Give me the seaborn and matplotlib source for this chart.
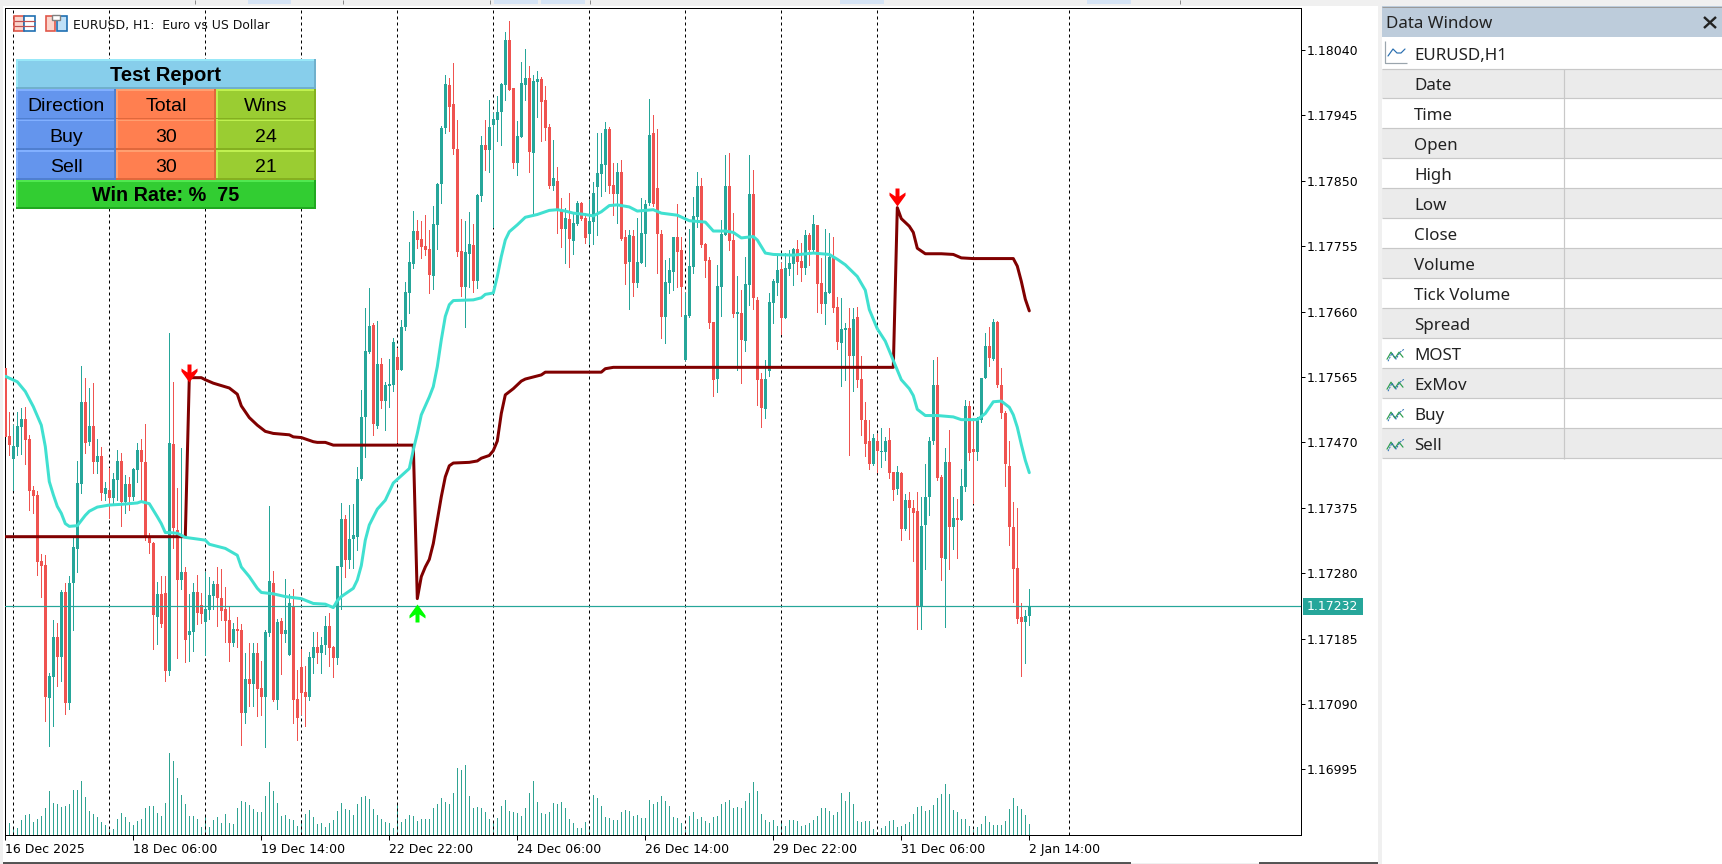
import numpy as np
import seaborn as sns
import matplotlib
matplotlib.use("Agg")
import matplotlib.pyplot as plt
from matplotlib.path import Path
from matplotlib.patches import Rectangle

# ---- data: prices are stored as points above 1.17000 ----
BASE = 1.17
POINT = 1e-5
body_top = [
 578,479,465,494,504,504,475,401,394,298, 292,131,187,187,253,253,266,318,411,529,
 529,494,494,450,450,404,401,417,443,443, 410,410,431,459,459,441,334,324,250,250,
 251,469,468,343,282,282,196,253,253,234, 228,248,264,264,244,228,212,199,199,197,
 126,126,164,164,113,195,269,266,209,211, 197,237,232,97,144,107,158,173,173,176,
 203,203,173,290,359,359,330,335,417,507, 603,639,640,584,584,553,555,616,594,638,
 688,732,777,777,765,755,751,787,845,927, 991,989,962,896,748,747,758,757,829,902,
 902,928,940,950,991,1054,1054,985,915,992, 999,999,995,998,998,967,928,854,850,808,
 796,794,789,818,818,796,792,832,861,874, 925,925,844,863,863,768,771,770,732,774,
 816,916,919,840,773,703,720,768,768,749, 655,726,799,842,842,758,735,645,697,773,
 842,842,764,659,658,700,831,831,677,562, 562,674,704,720,722,723,731,751,751,733,
 771,771,787,786,701,688,739,738,667,635, 636,636,649,652,562,503,472,476,472,458,
 472,473,427,427,425,386,386,374,370,349, 390,472,554,554,420,441,442,360,360,406,
 523,523,461,505,563,610,610,645,645,554, 512,436,347,287,217,218,232]
body_bot = [
 478,466,446,463,492,473,399,392,296,290, 100,99,129,158,158,91,91,266,315,410,
 469,471,441,441,396,395,389,389,415,383, 383,391,391,430,441,334,324,219,216,206,
 138,138,346,270,270,183,190,195,222,221, 209,226,247,244,225,211,179,179,196,77,
 77,119,119,112,100,100,193,96,96,192, 192,161,96,70,106,100,100,157,164,164,
 176,171,157,157,289,299,299,330,333,417, 507,601,497,494,530,530,552,553,575,575,
 638,687,729,764,754,749,713,712,786,845, 927,957,896,747,696,696,744,704,704,828,
 895,895,931,938,950,989,982,876,876,914, 989,892,890,994,964,927,842,842,808,780,
 780,765,762,787,794,767,773,790,841,860, 873,842,831,831,765,729,732,701,701,731,
 773,818,816,773,652,652,701,717,747,696, 590,654,725,797,757,733,643,561,562,696,
 771,762,656,656,619,617,699,680,561,520, 518,574,672,701,651,651,722,729,732,723,
 723,749,749,700,671,671,687,665,616,614, 633,595,595,561,502,467,439,439,457,456,
 456,426,401,402,344,344,374,368,231,232, 350,390,472,418,302,301,347,347,357,357,
 405,454,456,456,502,563,592,591,553,512, 438,347,286,213,209,209,218]
wick_hi = [
 578,514,495,514,520,521,481,407,399,308, 306,135,212,208,256,266,276,333,443,581,
 564,549,556,475,463,412,433,425,459,455, 423,420,433,469,475,497,338,325,267,276,
 276,629,558,404,462,289,250,266,277,251, 282,274,269,289,286,260,231,208,216,206,
 164,179,179,179,152,197,378,283,213,215, 272,250,257,139,170,145,166,195,195,187,
 218,222,174,290,382,365,379,381,434,546, 665,694,643,646,593,558,591,622,607,648,
 703,761,806,793,792,800,778,813,847,930, 1004,1000,1021,938,794,792,805,787,831,915,
 938,967,948,973,992,1066,1082,985,937,1023, 1041,1017,1004,1009,1001,988,932,909,870,825,
 810,832,803,821,819,803,822,848,919,919, 935,928,876,876,880,778,778,778,796,825,
 822,969,946,925,778,735,738,768,816,768, 687,780,826,863,854,760,739,645,728,793,
 887,890,803,712,691,739,887,866,681,571, 590,687,707,742,731,745,749,752,764,760,
 778,774,800,786,738,780,774,768,681,680, 643,665,665,667,596,529,502,482,482,491,
 478,491,427,436,427,395,398,386,398,390, 439,478,590,594,423,462,488,390,388,432,
 531,530,502,507,564,629,637,649,646,578, 515,472,384,375,237,226,257]
wick_lo = [
 478,452,401,452,453,439,372,367,277,245, 65,29,58,116,123,75,83,197,282,396,
 455,466,425,425,386,386,360,380,386,348, 367,372,386,412,386,328,309,170,177,202,
 123,132,317,157,257,151,152,167,206,208, 161,213,228,203,212,180,152,174,173,30,
 62,87,87,73,74,27,189,94,83,133, 180,161,62,38,75,58,96,135,150,135,
 163,145,129,148,228,274,288,288,314,415, 449,600,481,491,520,488,521,545,471,575,
 633,658,723,752,738,742,687,693,751,818, 919,922,889,741,683,638,696,688,694,821,
 866,863,783,908,902,967,982,869,858,914, 967,863,803,943,908,909,840,837,774,754,
 731,725,744,786,793,760,758,758,771,828, 835,832,800,789,764,700,664,683,696,731,
 726,815,813,716,622,614,687,691,696,654, 590,652,716,783,754,710,636,537,543,654,
 771,749,652,575,556,603,670,664,524,492, 505,566,643,684,627,651,713,699,715,704,
 715,728,745,659,658,642,687,659,606,552, 561,452,545,550,481,450,432,437,427,434,
 444,418,386,395,328,342,330,298,199,199, 286,365,468,415,270,202,286,315,302,357,
 399,444,382,445,500,563,581,590,551,506, 407,321,238,207,131,150,204]
falling_bars = [0,1,5,6,7,8,9,10,13,15,20,22,24,26,29,31,34,35,36,37,39,40,42,43,45,48,49,53,54,55,56,58,59,61,63,64,67,69,72,73,74,75,78,81,82,85,92,94,98,103,104,105,106,111,112,113,114,117,120,126,127,131,134,135,136,138,139,141,144,145,151,152,154,155,157,162,163,164,168,169,174,175,176,177,181,182,184,187,188,189,194,198,199,201,203,204,207,208,211,213,214,215,216,218,221,222,224,226,227,228,233,234,236,238,241,242,246,248,249,250,251,252,253,254]
tick_volume = [
 40,37,23,22,45,60,63,39,48,57,81,132,96,93,84,87,93,135,135,162,114,72,63,54,39,30,15,18,48,66,54,39,30,42,48,81,87,87,66,57,96,246,222,171,120,93,57,57,48,24,60,24,45,54,36,63,36,33,81,102,99,90,78,69,69,117,159,132,96,57,60,48,45,27,45,63,75,54,33,36,24,36,45,72,96,78,75,60,93,114,117,108,78,60,48,39,36,21,93,39,48,60,57,42,48,48,48,
 82,94,112,100,94,127,202,196,211,118,82,85,82,70,49,43,52,88,106,73,70,67,58,82,127,163,100,67,64,70,97,94,100,82,49,37,22,22,40,28,121,112,88,55,52,46,46,70,76,73,58,61,52,52,106,94,100,118,103,88,55,52,37,16,58,70,49,55,43,37,55,58,94,100,106,
 82,85,82,103,127,160,133,64,46,40,46,28,40,28,46,46,43,28,31,37,46,58,82,82,73,61,70,127,103,130,94,43,40,43,43,19,10,22,28,43,46,25,28,34,40,64,85,88,73,76,91,112,124,154,124,76,70,49,49,28,16,25,34,58,40,31,31,31,43,79,112,88,79,61,34]
exmov_bars = [0,3,5,7,9,10,11,12,13,14,15,16,18,20,21,23,26,29,33,34,36,38,39,40,41,43,45,50,51,55,58,59,61,63,64,67,70,74,77,80,82,83,84,87,88,89,90,91,93,95,97,101,102,103,104,106,107,108,109,110,111,112,117,119,120,122,123,124,125,126,128,130,133,136,138,140,142,145,147,149,151,153,156,158,160,162,164,168,171,175,177,180,182,184,187,188,190,192,197,202,206,208,210,213,215,216,218,220,222,224,226,227,228,230,233,237,239,243,245,247,249,251,252,253,254,255,256]
exmov_vals = [566,558,544,522,495,464,413,394,377,367,352,348,349,364,370,376,379,380,382,384,381,362,352,339,339,338,332,328,322,316,306,289,275,258,252,250,246,243,236,235,230,240,246,258,270,291,328,350,373,386,411,432,459,483,510,536,551,580,619,653,670,676,677,680,685,687,711,740,764,776,786,797,801,807,808,806,803,801,799,805,814,815,812,806,807,808,803,800,792,790,777,777,775,767,769,764,745,743,742,745,743,736,728,711,691,663,635,617,589,561,548,538,518,509,509,507,503,503,512,529,530,521,510,492,467,444,426]
most_bars = [0,45,46,49,50,52,56,58,59,61,63,65,67,71,72,74,77,78,80,82,102,103,104,105,106,107,108,109,110,111,112,116,118,119,121,122,123,124,125,127,129,130,132,134,135,149,150,152,222,223,224,226,227,228,230,234,237,239,242,252,253,254,255,256]
most_vals = [333,333,564,564,561,556,549,540,523,506,495,486,483,481,478,477,471,470,470,466,466,243,275,289,300,323,357,391,420,436,440,441,443,447,451,458,472,512,539,548,559,562,565,568,572,572,577,579,579,811,795,784,775,752,744,744,743,738,737,737,726,704,678,661]
sell_signal_bars = [46, 223]
sell_signal_vals = [571, 826]
buy_signal_bars = [103]
buy_signal_vals = [222]
last_price = 1.17232
price_ticks = [1.18040,1.17945,1.17850,1.17755,1.17660,1.17565,1.17470,1.17375,1.17280,1.17185,1.17090,1.16995]
date_tick_bars = [0,32,64,96,128,160,192,224,256]
date_tick_labels = ["16 Dec 2025","18 Dec 06:00","19 Dec 14:00","22 Dec 22:00","24 Dec 06:00","26 Dec 14:00","29 Dec 22:00","31 Dec 06:00","2 Jan 14:00"]
separator_bars = [2,26,50,74,98,122,146,170,194,218,242,266]
report_title = "Test Report"
report_head = ["Direction","Total","Wins"]
report_rows = [["Buy","30","24"],["Sell","30","21"]]
report_foot = "Win Rate: %  75"
panel_rows = ["Date","Time","Open","High","Low","Close","Volume","Tick Volume","Spread","MOST","ExMov","Buy","Sell"]
indicator_rows = ["MOST","ExMov","Buy","Sell"]

TEAL, RED = "#26a69a", "#ef5350"
W, H = 1722, 864
PX = 0.72  # points per pixel at dpi 100

sns.set_theme(style="white")
plt.rcParams["font.family"] = ["DejaVu Sans"]
fig = plt.figure(figsize=(W/100, H/100), dpi=100, facecolor="white")
L, R, T, B = 5.3, 1300.5, 8.0, 835.0
ax_vol = fig.add_axes([L/W, 1-B/H, (R-L)/W, (B-T)/H])
ax = ax_vol.twinx()
ax.set_zorder(ax_vol.get_zorder()+1)
ax.patch.set_visible(False)

to_price = lambda v: BASE + np.asarray(v, float)*POINT
bars = np.arange(len(body_top))
top, bot, hi, lo = map(to_price, (body_top, body_bot, wick_hi, wick_lo))
colors = np.array([TEAL]*len(bars), dtype=object)
colors[falling_bars] = RED

# tick volume
vol_lines = ax_vol.vlines(bars, 0, tick_volume, colors="#2fa392", lw=1*PX)
vol_lines.set_antialiased(False)
ax_vol.set_ylim(0, (B-T)*3)
ax_vol.set_yticks([]); ax_vol.set_ylabel("")

# period separators
ax.vlines(separator_bars, 0, 1, transform=ax.get_xaxis_transform(), colors="black",
          lw=1*PX, linestyles=(0, (3, 3)), zorder=1)
# candles
wicks = ax.vlines(bars, lo, hi, colors=list(colors), lw=1*PX, zorder=2)
wicks.set_antialiased(False)
ax.bar(bars, top-bot, bottom=bot, width=0.8, color=list(colors), lw=0, antialiased=False, zorder=3)
ax.axhline(last_price, color=TEAL, lw=1.2*PX, zorder=4)
# indicators
sns.lineplot(x=most_bars, y=to_price(most_vals), color="#800000", lw=3*PX, ax=ax, zorder=5,
             estimator=None, sort=False, antialiased=True)
sns.lineplot(x=exmov_bars, y=to_price(exmov_vals), color="#40E0D0", lw=3*PX, ax=ax, zorder=6,
             estimator=None, sort=False, antialiased=True)
# signals
down = Path([(-2,9),(2,9),(2,1),(8,5),(8,2),(0,-9),(-8,2),(-8,5),(-2,1),(-2,9)], closed=True)
up = Path([(-2,-9),(2,-9),(2,-1),(8,-5),(8,-2),(0,9),(-8,-2),(-8,-5),(-2,-1),(-2,-9)], closed=True)
ax.scatter(sell_signal_bars, to_price(sell_signal_vals), marker=down, s=(18*PX)**2, color="#ff0000", lw=0, zorder=7)
ax.scatter(buy_signal_bars, to_price(buy_signal_vals), marker=up, s=(18*PX)**2, color="#00ff00", lw=0, zorder=7)

ax.set_xlim(0, (R-L)/4)
ax.set_ylim(BASE+(1112.6-1.4526*B)*POINT, BASE+(1112.6-1.4526*T)*POINT)
ax.yaxis.tick_right()
ax.set_yticks(price_ticks)
ax.set_yticklabels([f"{v:.5f}" for v in price_ticks], fontsize=9, color="black")
ax.tick_params(axis="y", length=4*PX, width=1*PX, color="black", pad=2*PX, right=True)
ax_vol.set_xticks(date_tick_bars)
ax_vol.set_xticklabels(date_tick_labels, ha="left", fontsize=9, color="black")
ax_vol.tick_params(axis="x", length=5*PX, width=1*PX, color="black", pad=2, bottom=True)
ax.tick_params(axis="x", bottom=False, labelbottom=False)
ax_vol.set_xlabel(""); ax.set_ylabel("")
for a in (ax, ax_vol):
    for s in a.spines.values():
        s.set_color("black"); s.set_linewidth(1*PX); s.set_visible(True)
ax_vol.grid(False); ax.grid(False)

# ---- window furniture, laid out in pixels ----
ui = fig.add_axes([0, 0, 1, 1], zorder=20)
ui.set_xlim(0, W); ui.set_ylim(H, 0); ui.axis("off"); ui.patch.set_visible(False)
def box(x0, y0, x1, y1, fc, z=1, ec="none", lw=0):
    ui.add_patch(Rectangle((x0, y0), x1-x0, y1-y0, fc=fc, ec=ec, lw=lw, zorder=z))
def seg(xs, ys, c, lw=1, z=3):
    ui.plot(xs, ys, color=c, lw=lw*PX, zorder=z, solid_capstyle="butt")

GREY = "#f0f0f0"
box(0, 0, W, 6, GREY); box(0, 0, 3, H, GREY); box(1378, 0, 1382, H, GREY); box(0, 863, 1378, H, GREY)
for x0, x1 in [(248, 291), (494, 538), (541, 585), (840, 884), (1087, 1131)]:
    box(x0, 0, x1, 4, "#d6e4f5", z=2)
for x in (195, 343, 490, 590, 1180):
    seg([x, x], [0, 4], "#8a8a8a")
seg([3, 1131], [862.5, 862.5], "#202020", 1.5); seg([1259, 1378], [862.5, 862.5], "#202020", 1.5)

# chart caption with its two icons
box(13.5, 16, 24, 31, "#fbd5cc", ec="#e0574a", lw=1.2); box(24, 16, 34.5, 31, "#ffffff", ec="#1f6fb2", lw=1.2)
for y in (21, 26):
    seg([13.5, 34.5], [y, y], "#c05050", 1.2)
box(45.5, 16, 55, 31, "#fbd5cc", ec="#e0574a", lw=1.2); box(57, 16, 66.5, 31, "#bfe0f7", ec="#1f6fb2", lw=1.2)
box(52, 15, 60, 20, "#ffffff", ec="#808080", lw=1)
ui.text(73, 25, "EURUSD, H1:  Euro vs US Dollar", fontsize=8.95, va="center", ha="left", color="#111111")

# report table
def cell(x0, y0, x1, y1, fc, light, dark, text, bold=False, size=14, dy=0.0):
    box(x0, y0, x1, y1, fc, z=5)
    box(x0, y0, x1, y0+1.6, light, z=6); box(x0, y0, x0+1.6, y1, light, z=6)
    box(x0, y1-1.6, x1, y1, dark, z=6); box(x1-1.6, y0, x1, y1, dark, z=6)
    ui.text((x0+x1)/2, (y0+y1)/2+dy, text, fontsize=size, ha="center", va="center_baseline", color="black", zorder=7,
            family="Liberation Sans", weight="bold" if bold else "normal")
col_x = [16, 116, 216, 316]
fills = [("#6495ED", "#82b0ff", "#4f7fd0"), ("#FF7F50", "#ff9f70", "#e0683c"), ("#9ACD32", "#c0f050", "#84b020")]
cell(16, 59, 316, 89, "#87CEEB", "#98e8f8", "#70b0cc", report_title, bold=True, size=14.6, dy=-0.8)
row_y = [89, 119.5, 150, 180]
for r, row in enumerate([report_head]+report_rows):
    for c, txt in enumerate(row):
        cell(col_x[c], row_y[r], col_x[c+1], row_y[r+1], *fills[c], txt, dy=0.4)
cell(16, 180, 316, 209, "#32CD32", "#50e850", "#20a820", report_foot, bold=True, size=14.2, dy=-0.8)

# last price tag
box(1303, 598, 1363, 615, TEAL, z=3)
ui.text(1307, 606.5, f"{last_price:.5f}", color="white", fontsize=9, va="center", ha="left", zorder=4)

# data window
PANEL = "Noto Sans"
PSIZE = 12.2
box(1382, 6, W, 37, "#bdccdb")
seg([1382, W], [6.5, 6.5], "#9a9a9a")
ui.text(1386, 24, "Data Window", fontsize=PSIZE, family=PANEL, va="center", color="#222222")
seg([1704, 1716], [17, 28], "#222222", 2.4); seg([1704, 1716], [28, 17], "#222222", 2.4)
seg([1385, 1385, 1407], [41, 63, 63], "#9aa5ad", 1.2)
ui.plot([1388, 1393, 1397, 1401, 1405], [56, 49, 53, 53, 49], color="#2a6fb0", lw=1.2*PX, zorder=3)
ui.text(1414, 56, "EURUSD,H1", fontsize=PSIZE, family=PANEL, va="center", color="#222222")
seg([1382, W], [68.5, 68.5], "#c8c8c8", 1.2)
for k, name in enumerate(panel_rows):
    y0 = 68.5 + 29.97*k
    if k % 2 == 0:
        box(1382, y0, W, y0+29.97, "#ebebeb")
    seg([1382, W], [y0+29.97, y0+29.97], "#c8c8c8", 1.2)
    ui.text(1414, y0+17.5, name, fontsize=PSIZE, family=PANEL, va="center", color="#222222")
    if name in indicator_rows:
        xs = np.array([1387, 1391, 1395, 1399, 1403])
        ui.plot(xs, y0+np.array([19, 12, 18, 12, 17])+2, color="#2e9e4f", lw=1.2*PX, zorder=3)
        ui.plot(xs+1, y0+np.array([22, 14, 20, 13, 10])+1, color="#2a6fb0", lw=1*PX, zorder=3, ls=(0, (2, 1)))
seg([1564, 1564], [68.5, 458.5], "#c8c8c8", 1.2)

fig.savefig("out.png", dpi=100, facecolor="white")
